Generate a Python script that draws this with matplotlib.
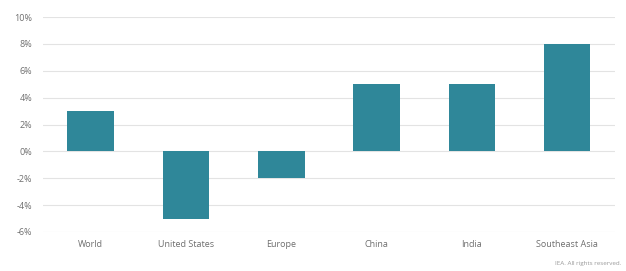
import matplotlib
matplotlib.use('Agg')
import matplotlib.pyplot as plt

# Chart data
regions = ['World', 'United States', 'Europe', 'China', 'India', 'Southeast Asia']
growth = [3, -5, -2, 5, 5, 8]
yTicks = [-6, -4, -2, 0, 2, 4, 6, 8, 10]

barColour = '#2f8799'
textColour = '#6f6f6f'
gridColour = '#e3e3e3'

plt.rcParams['font.family'] = ['Open Sans', 'DejaVu Sans']

fig = plt.figure(figsize=(6.26, 2.71), dpi=100)
ax = fig.add_axes([0.069, 0.144, 0.913, 0.793])

ax.bar(range(len(regions)), growth, width=0.49, color=barColour, zorder=3)

ax.set_xlim(-0.5, len(regions) - 0.5)
ax.set_ylim(-6, 10)
ax.set_yticks(yTicks)
ax.set_yticklabels(['{}%'.format(t) for t in yTicks])
ax.set_xticks(range(len(regions)))
ax.set_xticklabels(regions)
ax.yaxis.grid(True, color=gridColour, linewidth=0.8, zorder=0)
ax.tick_params(axis='both', length=0, labelsize=6.5, colors=textColour)
ax.tick_params(axis='x', pad=6)
ax.tick_params(axis='y', pad=8)
for spine in ax.spines.values():
    spine.set_visible(False)

fig.text(0.992, 0.02, 'IEA. All rights reserved.', ha='right', va='bottom',
         fontsize=4.5, color='#9a9a9a')

fig.savefig('out.png', dpi=100)
